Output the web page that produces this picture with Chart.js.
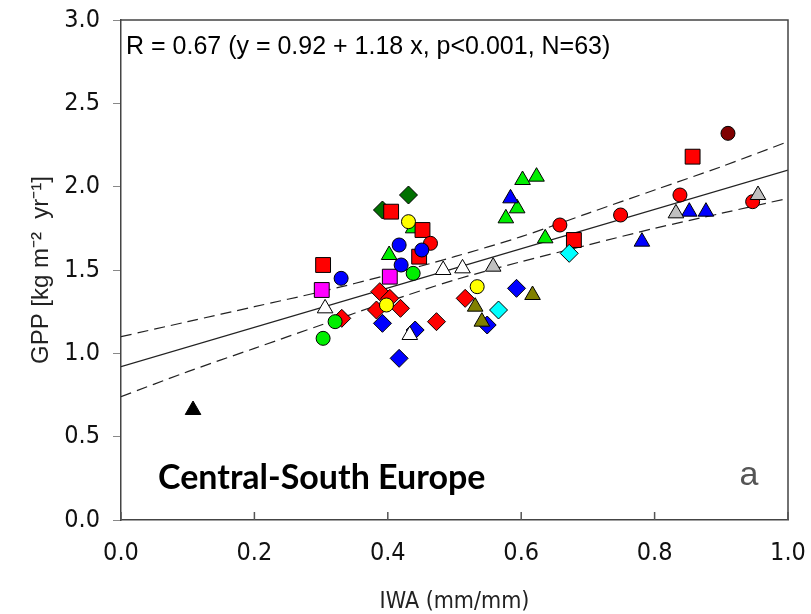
<!DOCTYPE html>
<html lang="en">
<head>
<meta charset="UTF-8">
<title>GPP vs IWA - Central-South Europe</title>
<script src="https://cdn.jsdelivr.net/npm/chart.js"></script>
<style>
  html, body { margin: 0; padding: 0; background: #fff; }
  #wrap { width: 811px; height: 614px; position: relative; }
</style>
</head>
<body>
<div id="wrap"><canvas id="gppChart"></canvas></div>
<script>
// site observations as [IWA, GPP] pairs, grouped by marker
const redSquares     = [[0.405, 1.85], [0.452, 1.74], [0.447, 1.58], [0.303, 1.53], [0.679, 1.68], [0.857, 2.18]];
const redCircles     = [[0.464, 1.66], [0.658, 1.77], [0.749, 1.83], [0.838, 1.95], [0.947, 1.91]];
const redDiamonds    = [[0.388, 1.37], [0.403, 1.33], [0.383, 1.26], [0.419, 1.27], [0.331, 1.21], [0.473, 1.19], [0.516, 1.33]];
const darkRedCircles = [[0.910, 2.32]];
const magentaSquares = [[0.403, 1.46], [0.301, 1.38]];
const yellowCircles  = [[0.431, 1.79], [0.398, 1.29], [0.534, 1.40]];
const blueCircles    = [[0.417, 1.65], [0.451, 1.62], [0.420, 1.53], [0.330, 1.45]];
const blueDiamonds   = [[0.392, 1.18], [0.441, 1.14], [0.417, 0.97], [0.593, 1.39], [0.549, 1.17]];
const blueTriangles  = [[0.584, 1.93], [0.781, 1.67], [0.852, 1.85], [0.877, 1.85]];
const greenTriangles = [[0.402, 1.59], [0.438, 1.75], [0.602, 2.04], [0.623, 2.06], [0.594, 1.87], [0.577, 1.81], [0.636, 1.69]];
const greenCircles   = [[0.438, 1.48], [0.321, 1.19], [0.303, 1.09]];
const darkGreenDiam  = [[0.431, 1.95], [0.392, 1.86]];
const whiteTriangles = [[0.306, 1.27], [0.433, 1.11], [0.483, 1.50], [0.512, 1.51]];
const grayTriangles  = [[0.558, 1.52], [0.832, 1.84], [0.955, 1.95]];
const oliveTriangles = [[0.531, 1.28], [0.541, 1.19], [0.617, 1.35]];
const cyanDiamonds   = [[0.672, 1.60], [0.566, 1.26]];
const blackTriangles = [[0.108, 0.66]];

// regression y = 0.92 + 1.18 x and its 95% confidence band
const fitIntercept = 0.92;
const fitSlope = 1.18;
const bandX     = [0, 0.1, 0.2, 0.3, 0.4, 0.5, 0.6, 0.7, 0.8, 0.9, 1.0];
const bandUpper = [1.10, 1.19, 1.28, 1.37, 1.47, 1.58, 1.70, 1.84, 1.98, 2.12, 2.27];
const bandLower = [0.74, 0.89, 1.03, 1.17, 1.31, 1.44, 1.55, 1.65, 1.75, 1.84, 1.93];

const xTicks = [0, 0.2, 0.4, 0.6, 0.8, 1.0];
const yTicks = [0, 0.5, 1.0, 1.5, 2.0, 2.5, 3.0];

const statsText = 'R = 0.67 (y = 0.92 + 1.18 x, p<0.001, N=63)';
const regionText = 'Central-South Europe';
const panelLetter = 'a';

const narrow = "'Liberation Sans Narrow', 'DejaVu Sans Condensed', Arial, sans-serif";
const sans = "'Liberation Sans', Arial, sans-serif";

const toXY = pts => pts.map(p => ({ x: p[0], y: p[1] }));

function markers(pts, color, style, radius) {
    return {
        data: toXY(pts),
        showLine: false,
        pointStyle: style,
        pointRadius: radius,
        pointHoverRadius: radius,
        backgroundColor: color,
        borderColor: '#000',
        borderWidth: 1,
        order: 0
    };
}

function curve(xs, ys, dashed) {
    return {
        data: xs.map((x, i) => ({ x: x, y: ys[i] })),
        showLine: true,
        borderColor: '#222',
        borderWidth: 1.2,
        borderDash: dashed ? [11, 6] : [],
        pointRadius: 0,
        tension: 0.3,
        fill: false,
        order: 1
    };
}

const fitLine = [fitIntercept, fitIntercept + fitSlope];

const datasets = [
    markers(blackTriangles, '#000000', 'triangle', 9),
    markers(cyanDiamonds, '#00ffff', 'rectRot', 9),
    markers(oliveTriangles, '#808000', 'triangle', 9),
    markers(grayTriangles, '#c0c0c0', 'triangle', 9),
    markers(whiteTriangles, '#ffffff', 'triangle', 9),
    markers(blueTriangles, '#0000ff', 'triangle', 9),
    markers(greenCircles, '#00ee00', 'circle', 7),
    markers(blueDiamonds, '#0000ff', 'rectRot', 9),
    markers(blueCircles, '#0000ff', 'circle', 7),
    markers(yellowCircles, '#ffff00', 'circle', 7),
    markers(magentaSquares, '#ff00ff', 'rect', 10.5),
    markers(redDiamonds, '#ff0000', 'rectRot', 9),
    markers(darkRedCircles, '#800000', 'circle', 7),
    markers(redCircles, '#ff0000', 'circle', 7),
    markers(redSquares, '#ff0000', 'rect', 10.5),
    markers(darkGreenDiam, '#007000', 'rectRot', 9),
    markers(greenTriangles, '#00ee00', 'triangle', 9),
    curve([0, 1], fitLine, false),
    curve(bandX, bandUpper, true),
    curve(bandX, bandLower, true)
];

// frame top/right, inward x ticks and the panel texts
const panelDecor = {
    id: 'panelDecor',
    afterDraw(chart) {
        const { ctx, chartArea: a, scales } = chart;
        ctx.save();
        ctx.strokeStyle = '#444';
        ctx.lineWidth = 1.5;
        ctx.beginPath();
        ctx.moveTo(a.left, a.top);
        ctx.lineTo(a.right, a.top);
        ctx.lineTo(a.right, a.bottom);
        ctx.stroke();

        ctx.strokeStyle = '#555';
        ctx.lineWidth = 1.5;
        xTicks.forEach(v => {
            const px = scales.x.getPixelForValue(v);
            ctx.beginPath();
            ctx.moveTo(px, a.bottom);
            ctx.lineTo(px, a.bottom - 8);
            ctx.stroke();
        });

        ctx.fillStyle = '#000';
        ctx.textBaseline = 'middle';
        ctx.textAlign = 'left';
        ctx.font = '25px ' + sans;
        ctx.fillText(statsText, a.left + 5, 47);

        ctx.font = 'bold 34px Lato, "Open Sans", sans-serif';
        ctx.fillText(regionText, 158, 478);

        ctx.fillStyle = '#555';
        ctx.textAlign = 'center';
        ctx.font = '34px ' + sans;
        ctx.fillText(panelLetter, 749, 476);
        ctx.restore();
    }
};

new Chart(document.getElementById('gppChart'), {
    type: 'scatter',
    data: { datasets: datasets },
    options: {
        responsive: true,
        maintainAspectRatio: false,
        animation: false,
        layout: { padding: { top: 20, right: 23, left: 0, bottom: 0 } },
        plugins: {
            legend: { display: false },
            tooltip: { enabled: false }
        },
        scales: {
            x: {
                type: 'linear',
                min: 0,
                max: 1,
                afterFit: s => { s.height = 94; s.paddingLeft = 0; s.paddingRight = 0; },
                afterBuildTicks: s => { s.ticks = xTicks.map(v => ({ value: v })); },
                grid: { drawOnChartArea: false, drawTicks: false },
                border: { color: '#444', width: 1.5 },
                ticks: {
                    padding: 18,
                    color: '#111',
                    font: { family: narrow, size: 25 },
                    callback: v => v.toFixed(1)
                },
                title: {
                    display: true,
                    text: 'IWA (mm/mm)',
                    color: '#222',
                    padding: { top: 0, bottom: 0 },
                    font: { family: narrow, size: 23, lineHeight: 1.0 }
                }
            },
            y: {
                type: 'linear',
                min: 0,
                max: 3,
                afterFit: s => { s.width = 121; s.paddingTop = 0; s.paddingBottom = 0; },
                afterBuildTicks: s => { s.ticks = yTicks.map(v => ({ value: v })); },
                grid: { drawOnChartArea: false, drawTicks: true, tickLength: 8, color: '#888' },
                border: { color: '#444', width: 1.5 },
                ticks: {
                    padding: 13,
                    color: '#111',
                    font: { family: narrow, size: 25 },
                    callback: v => v.toFixed(1)
                },
                title: {
                    display: true,
                    text: 'GPP [kg m\u207B\u00B2  yr\u207B\u00B9]',
                    color: '#222',
                    padding: { top: 27, bottom: 0 },
                    font: { family: sans, size: 24 }
                }
            }
        }
    },
    plugins: [panelDecor]
});
</script>
</body>
</html>
